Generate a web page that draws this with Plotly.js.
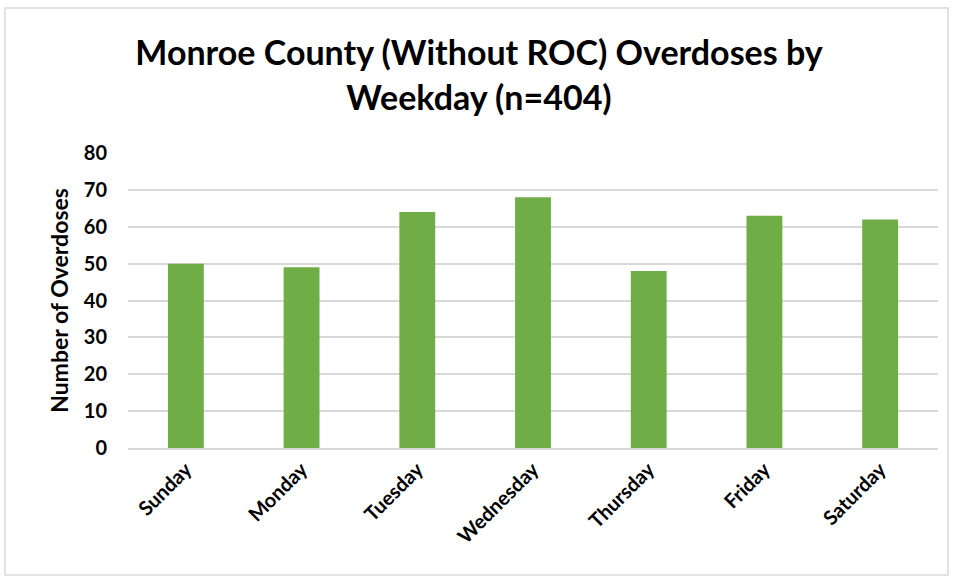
<!DOCTYPE html>
<html>
<head>
<meta charset="utf-8">
<script src="https://cdn.plot.ly/plotly-3.0.1.min.js"></script>
<style>html,body{margin:0;padding:0;background:#fff;}#chart{width:958px;height:579px;}</style>
</head>
<body>
<div id="chart"></div>
<script>
var categories = ["Sunday","Monday","Tuesday","Wednesday","Thursday","Friday","Saturday"];
var overdoses = [50, 49, 64, 68, 48, 63, 62];
var yTicks = [0,10,20,30,40,50,60,70,80];

var data = [{
  type: "bar",
  x: categories,
  y: overdoses,
  marker: {color: "#70ad47"},
  hoverinfo: "x+y"
}];

var layout = {
  width: 958, height: 579,
  margin: {l: 128, r: 20, t: 153, b: 131},
  paper_bgcolor: "#ffffff",
  plot_bgcolor: "#ffffff",
  bargap: 0.69,
  showlegend: false,
  font: {family: "Lato, 'Open Sans', sans-serif", color: "#000"},
  title: {
    text: "<b>Monroe County (Without ROC) Overdoses by<br>Weekday (n=404)</b>",
    font: {size: 34, color: "#000", family: "Lato, 'Open Sans', sans-serif"},
    x: 0.5, xanchor: "center", y: 0.887, yanchor: "top"
  },
  xaxis: {
    type: "category",
    tickangle: -45,
    tickfont: {size: 20, color: "#000"},
    showgrid: false,
    showline: true, linecolor: "#d9d9d9", linewidth: 2,
    ticks: "", ticklen: 0
  },
  yaxis: {
    range: [0, 80],
    tickvals: yTicks,
    ticktext: yTicks.map(function(v){return "<b>"+v+"</b>";}),
    tickfont: {size: 20, color: "#000"},
    gridcolor: "#d9d9d9", gridwidth: 2,
    zeroline: false,
    showline: false,
    ticks: "", ticklabelstandoff: 20,
    title: {text: "<b>Number of Overdoses</b>", font: {size: 23, color: "#000"}, standoff: 8}
  },
  shapes: [{
    type: "rect", xref: "paper", yref: "paper",
    x0: -123/810, x1: 1 + 10/810, y0: -127/295, y1: 1 + 145/295,
    line: {color: "#d9d9d9", width: 1.5}, fillcolor: "rgba(0,0,0,0)", layer: "below"
  }]
};

layout.xaxis.ticktext = categories.map(function(c){return "<b>"+c+"</b>";});
layout.xaxis.tickvals = categories;

Plotly.newPlot("chart", data, layout, {displayModeBar: false});
</script>
</body>
</html>
